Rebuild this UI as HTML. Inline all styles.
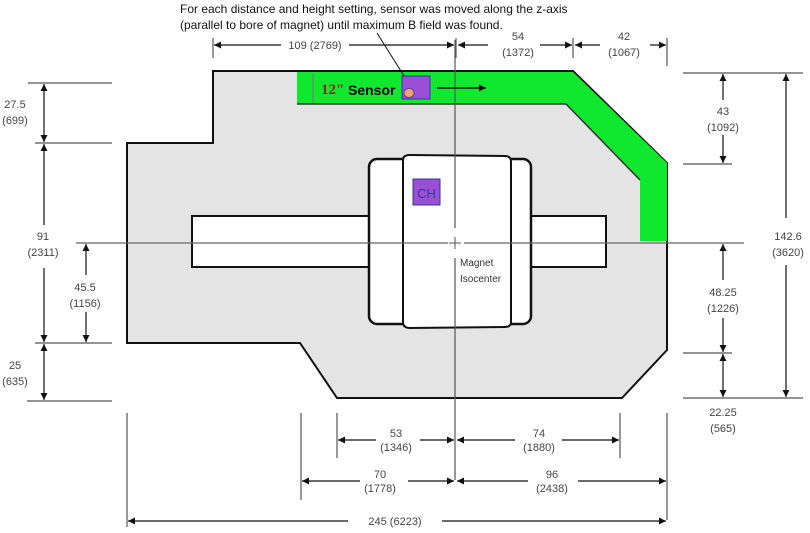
<!DOCTYPE html>
<html><head><meta charset="utf-8"><style>
html,body{margin:0;padding:0;background:#fff;}
svg{display:block;}
.d{font-family:"Liberation Sans",sans-serif;font-size:11px;fill:#444;text-anchor:middle;}
</style></head><body>
<svg width="810" height="533" viewBox="0 0 810 533" xmlns="http://www.w3.org/2000/svg">
<defs>
<marker id="a" viewBox="0 0 10 10" refX="10" refY="5" markerWidth="10" markerHeight="7" orient="auto-start-reverse" markerUnits="userSpaceOnUse"><path d="M0,0 L10,5 L0,10 z" fill="#111"/></marker>
</defs>
<polygon points="127,143 213,143 213,71 573,71 667,163 667,350 622,398 337,398 300,343 127,343" fill="#e4e4e4" stroke="#111" stroke-width="2"/>
<polygon points="297,72 573,72 667,163 667,241 640,241 640,180 566,104 297,104" fill="#10e830"/>
<line x1="297" y1="104" x2="566" y2="104" stroke="#333" stroke-width="1.5"/>
<line x1="566" y1="104" x2="640" y2="180" stroke="#333" stroke-width="1.5"/>
<rect x="192" y="216" width="414" height="51" fill="#fff" stroke="#111" stroke-width="2"/>
<rect x="369" y="159" width="162" height="165" rx="8" fill="#fff" stroke="#111" stroke-width="2.5"/>
<path d="M403,160 Q403,155 410,155 L505,156 Q511,156 511,162 L511,322 Q511,327 505,327 L410,328 Q403,328 403,322 Z" fill="#fff" stroke="#111" stroke-width="2"/>
<line x1="76" y1="243" x2="448" y2="243" stroke="#666" stroke-width="1.2"/>
<line x1="464" y1="243" x2="744" y2="243" stroke="#666" stroke-width="1.2"/>
<line x1="455" y1="40" x2="455" y2="228" stroke="#555" stroke-width="1.2"/>
<line x1="455" y1="258" x2="455" y2="480" stroke="#555" stroke-width="1.2"/>
<line x1="449" y1="243" x2="461" y2="243" stroke="#555"/>
<line x1="455" y1="237" x2="455" y2="249" stroke="#555"/>
<text x="460" y="266" style="font-family:'Liberation Sans',sans-serif;font-size:10px;fill:#333">Magnet</text>
<text x="460" y="282" style="font-family:'Liberation Sans',sans-serif;font-size:10px;fill:#333">Isocenter</text>
<rect x="413" y="179" width="27" height="26" fill="#9b4fd6" stroke="#2a3c9a"/>
<text x="426.5" y="198" style="font-family:'Liberation Sans',sans-serif;font-size:13px;fill:#2a3c9a;text-anchor:middle">CH</text>
<line x1="313" y1="74" x2="313" y2="103" stroke="#777" stroke-width="1"/>
<text x="321" y="94" style="font-family:'Liberation Serif',serif;font-size:15px;font-weight:bold;fill:#8b2a1a">12"</text>
<text x="348" y="95" style="font-family:'Liberation Sans',sans-serif;font-size:14px;font-weight:bold;fill:#000">Sensor</text>
<rect x="402" y="76" width="28" height="23" fill="#9b4fd6" stroke="#2a3c9a"/>
<ellipse cx="409" cy="93" rx="5" ry="4.5" fill="#f5a26a" stroke="#2a3c9a" stroke-width="0.7"/>
<line x1="437" y1="88" x2="486" y2="88" stroke="#111" stroke-width="1.5" marker-end="url(#a)"/>
<line x1="377" y1="33" x2="404" y2="76" stroke="#111" stroke-width="1"/>
<text x="180" y="13" style="font-family:'Liberation Sans',sans-serif;font-size:12px;fill:#111">For each distance and height setting, sensor was moved along the z-axis</text>
<text x="180" y="29" style="font-family:'Liberation Sans',sans-serif;font-size:12px;fill:#111">(parallel to bore of magnet) until maximum B field was found.</text>
<g stroke="#555" stroke-width="1.2" fill="none">
<line x1="213" y1="38" x2="213" y2="58"/><line x1="456" y1="38" x2="456" y2="58"/><line x1="573" y1="38" x2="573" y2="58"/><line x1="667" y1="38" x2="667" y2="66"/>
<line x1="214" y1="45" x2="281" y2="45" stroke="#111" marker-start="url(#a)"/><line x1="349" y1="45" x2="454" y2="45" stroke="#111" marker-end="url(#a)"/>
<line x1="458" y1="45" x2="488" y2="45" stroke="#111" marker-start="url(#a)"/><line x1="540" y1="45" x2="572" y2="45" stroke="#111" marker-end="url(#a)"/>
<line x1="575" y1="45" x2="600" y2="45" stroke="#111" marker-start="url(#a)"/><line x1="650" y1="45" x2="666" y2="45" stroke="#111" marker-end="url(#a)"/>
<line x1="28" y1="83" x2="112" y2="83"/><line x1="35" y1="143" x2="112" y2="143"/><line x1="35" y1="343" x2="112" y2="343"/><line x1="27" y1="401" x2="112" y2="401"/>
<line x1="44" y1="84" x2="44" y2="142" stroke="#111" marker-start="url(#a)" marker-end="url(#a)"/>
<line x1="44" y1="144" x2="44" y2="225" stroke="#111" marker-start="url(#a)"/><line x1="44" y1="268" x2="44" y2="342" stroke="#111" marker-end="url(#a)"/>
<line x1="86" y1="244" x2="86" y2="275" stroke="#111" marker-start="url(#a)"/><line x1="86" y1="312" x2="86" y2="342" stroke="#111" marker-end="url(#a)"/>
<line x1="44" y1="344" x2="44" y2="400" stroke="#111" marker-start="url(#a)" marker-end="url(#a)"/>
<line x1="683" y1="73" x2="803" y2="73"/><line x1="683" y1="164" x2="732" y2="164"/><line x1="683" y1="353" x2="732" y2="353"/><line x1="683" y1="398" x2="803" y2="398"/>
<line x1="723" y1="74" x2="723" y2="100" stroke="#111" marker-start="url(#a)"/><line x1="723" y1="135" x2="723" y2="163" stroke="#111" marker-end="url(#a)"/>
<line x1="786" y1="74" x2="786" y2="218" stroke="#111" marker-start="url(#a)"/><line x1="786" y1="265" x2="786" y2="397" stroke="#111" marker-end="url(#a)"/>
<line x1="723" y1="244" x2="723" y2="280" stroke="#111" marker-start="url(#a)"/><line x1="723" y1="318" x2="723" y2="352" stroke="#111" marker-end="url(#a)"/>
<line x1="723" y1="354" x2="723" y2="397" stroke="#111" marker-start="url(#a)" marker-end="url(#a)"/>
<line x1="337" y1="413" x2="337" y2="458"/><line x1="620" y1="413" x2="620" y2="458"/><line x1="301" y1="413" x2="301" y2="500"/><line x1="667" y1="413" x2="667" y2="520"/><line x1="127" y1="413" x2="127" y2="527"/>
<line x1="338" y1="440" x2="376" y2="440" stroke="#111" marker-start="url(#a)"/><line x1="420" y1="440" x2="454" y2="440" stroke="#111" marker-end="url(#a)"/>
<line x1="457" y1="440" x2="515" y2="440" stroke="#111" marker-start="url(#a)"/><line x1="562" y1="440" x2="619" y2="440" stroke="#111" marker-end="url(#a)"/>
<line x1="302" y1="481" x2="360" y2="481" stroke="#111" marker-start="url(#a)"/><line x1="408" y1="481" x2="454" y2="481" stroke="#111" marker-end="url(#a)"/>
<line x1="457" y1="481" x2="528" y2="481" stroke="#111" marker-start="url(#a)"/><line x1="578" y1="481" x2="666" y2="481" stroke="#111" marker-end="url(#a)"/>
<line x1="128" y1="521" x2="348" y2="521" stroke="#111" marker-start="url(#a)"/><line x1="442" y1="521" x2="666" y2="521" stroke="#111" marker-end="url(#a)"/>
</g>
<g class="d">
<text x="315" y="49">109 (2769)</text>
<text x="518" y="40">54</text><text x="518" y="56">(1372)</text>
<text x="624" y="40">42</text><text x="624" y="56">(1067)</text>
<text x="15" y="108">27.5</text><text x="15" y="124">(699)</text>
<text x="43" y="240">91</text><text x="43" y="256">(2311)</text>
<text x="85" y="291">45.5</text><text x="85" y="307">(1156)</text>
<text x="15" y="369">25</text><text x="15" y="385">(635)</text>
<text x="723" y="115">43</text><text x="723" y="131">(1092)</text>
<text x="788" y="240">142.6</text><text x="788" y="256">(3620)</text>
<text x="723" y="296">48.25</text><text x="723" y="312">(1226)</text>
<text x="723" y="416">22.25</text><text x="723" y="432">(565)</text>
<text x="396" y="437">53</text><text x="396" y="451">(1346)</text>
<text x="539" y="437">74</text><text x="539" y="451">(1880)</text>
<text x="380" y="478">70</text><text x="380" y="492">(1778)</text>
<text x="552" y="478">96</text><text x="552" y="492">(2438)</text>
<text x="395" y="525">245 (6223)</text>
</g>
</svg>
</body></html>
